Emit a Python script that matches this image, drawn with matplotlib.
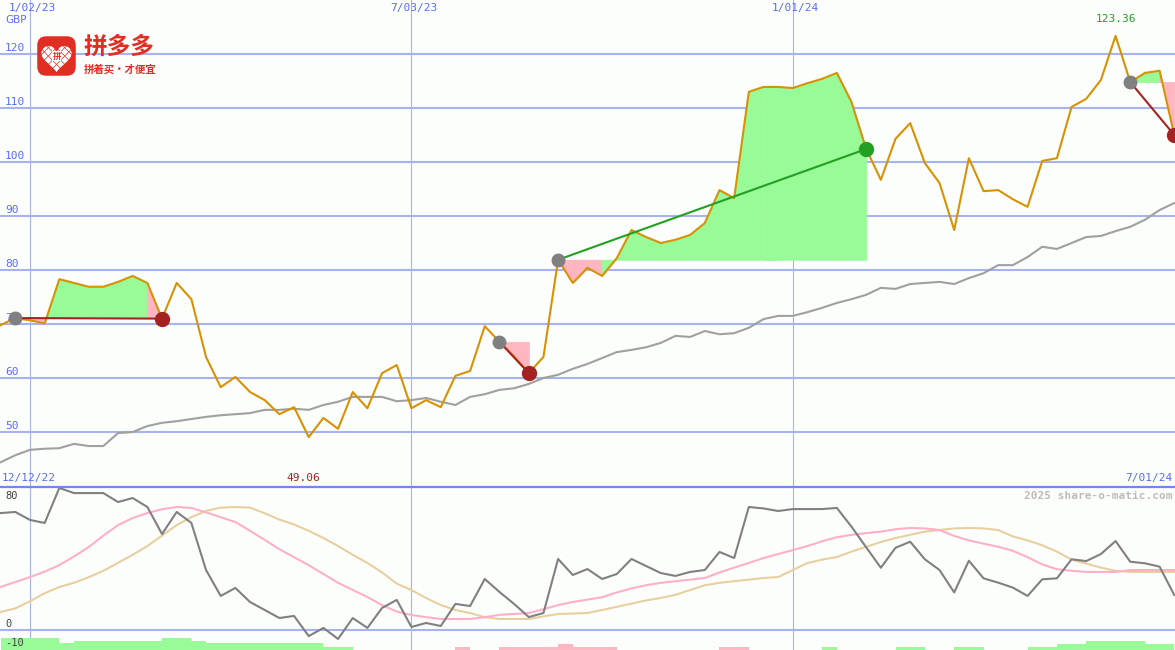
import numpy as np
import matplotlib.pyplot as plt
from matplotlib.patches import FancyBboxPatch
from matplotlib.lines import Line2D

# weekly points, week 0 = 1/02/23
weeks = np.arange(-2, 79)

price = [69.8, 71.1, 70.7, 70.1, 78.3, 77.6, 76.9, 76.9, 77.8, 78.9,
         77.6, 71.0, 77.6, 74.6, 63.9, 58.3, 60.2, 57.4, 55.9, 53.3,
         54.6, 49.06, 52.6, 50.6, 57.4, 54.4, 60.9, 62.4, 54.4, 55.9,
         54.6, 60.4, 61.3, 69.6, 66.7, 64.0, 60.9, 63.9, 81.9, 77.6,
         80.4, 78.9, 82.2, 87.4, 86.1, 85.0, 85.6, 86.5, 88.7, 94.8,
         93.3, 113.0, 113.9, 113.9, 113.7, 114.6, 115.4, 116.5, 111.1, 102.4,
         96.7, 104.3, 107.2, 99.8, 96.1, 87.4, 100.7, 94.6, 94.8, 93.1,
         91.7, 100.2, 100.7, 110.2, 111.7, 115.2, 123.36, 114.8, 116.5, 116.9,
         105.0]

avg = [44.4, 45.7, 46.7, 46.9, 47.0, 47.8, 47.4, 47.4, 49.8, 50.0,
       51.1, 51.7, 52.0, 52.4, 52.8, 53.1, 53.3, 53.5, 54.1, 54.1,
       54.3, 54.1, 55.0, 55.6, 56.5, 56.5, 56.5, 55.7, 55.9, 56.3,
       55.6, 55.0, 56.5, 57.0, 57.8, 58.1, 58.9, 60.0, 60.6, 61.7,
       62.6, 63.7, 64.8, 65.2, 65.7, 66.5, 67.8, 67.6, 68.7, 68.1,
       68.3, 69.3, 70.9, 71.5, 71.5, 72.2, 73.0, 73.9, 74.6, 75.4,
       76.7, 76.5, 77.4, 77.6, 77.8, 77.4, 78.5, 79.4, 80.9, 80.9,
       82.4, 84.3, 83.9, 85.0, 86.1, 86.3, 87.2, 88.0, 89.3, 91.1,
       92.4]

osc = [73.1, 73.8, 68.8, 66.9, 88.8, 85.6, 85.6, 85.6, 80.0, 82.5,
       76.9, 60.0, 73.8, 66.9, 37.5, 21.3, 26.3, 17.5, 12.5, 7.5,
       8.8, -3.8, 1.3, -5.6, 7.5, 1.3, 13.8, 18.8, 1.9, 4.4,
       2.5, 16.3, 15.0, 31.9, 23.8, 16.3, 8.1, 10.6, 44.4, 34.4,
       38.1, 31.9, 35.0, 44.4, 40.0, 35.6, 33.8, 36.3, 37.5, 48.8,
       45.0, 76.9, 76.0, 74.4, 75.6, 75.6, 75.6, 76.3, 64.6, 51.7,
       38.9, 51.4, 55.2, 44.2, 37.5, 23.5, 43.3, 32.3, 29.6, 26.5,
       21.3, 31.7, 32.3, 44.2, 43.1, 47.5, 55.6, 42.7, 41.7, 39.6,
       21.9]

osc_fast = [26.9, 30.0, 33.1, 36.5, 40.6, 46.0, 51.9, 59.0, 65.6, 70.0,
            73.1, 75.5, 76.9, 76.3, 73.5, 70.5, 67.5, 62.0, 56.3, 50.5,
            45.5, 40.5, 35.0, 29.5, 25.0, 20.6, 15.5, 11.5, 9.4, 8.0,
            6.9, 6.9, 6.9, 8.0, 9.5, 10.0, 10.6, 13.0, 15.6, 17.5,
            19.0, 20.5, 23.5, 26.0, 28.0, 29.5, 30.5, 31.5, 32.5, 36.0,
            39.0, 41.9, 45.0, 47.5, 50.0, 52.5, 55.5, 58.0, 59.5, 60.6,
            61.5, 63.0, 63.8, 63.5, 62.5, 58.8, 56.0, 54.0, 52.0, 49.5,
            45.5, 41.0, 38.0, 37.0, 36.3, 36.3, 36.3, 37.5, 37.5, 37.5,
            37.5]

osc_slow = [11.3, 13.5, 18.0, 23.0, 26.9, 29.5, 33.0, 37.0, 42.0, 47.0,
            52.5, 59.0, 65.6, 70.5, 74.5, 76.5, 76.9, 76.5, 73.0, 69.0,
            66.0, 62.0, 57.5, 52.5, 47.0, 41.9, 36.0, 29.0, 25.0, 20.0,
            15.6, 12.5, 10.6, 8.0, 6.9, 6.9, 6.9, 8.5, 10.0, 10.3,
            10.6, 12.5, 14.5, 16.5, 18.5, 20.0, 22.0, 25.0, 28.0, 29.5,
            30.5, 31.5, 32.5, 33.1, 37.5, 41.9, 44.0, 45.6, 49.0, 52.0,
            55.0, 57.5, 59.5, 61.5, 62.5, 63.5, 63.8, 63.5, 62.5, 58.5,
            56.0, 53.0, 49.0, 44.0, 41.5, 39.0, 37.0, 36.3, 36.3, 36.3,
            36.3]

# weekly signal bars (weeks -2..77), + green / - pink
signal = [7.5, 7.5, 7.5, 7.5, 4.4, 5.6, 5.6, 5.6, 5.6, 5.6,
          5.6, 7.5, 7.5, 5.6, 4.4, 4.4, 4.4, 4.4, 4.4, 4.4,
          4.4, 4.4, 1.9, 1.9, 0, 0, 0, 0, 0, 0,
          0, -1.9, 0, 0, -1.9, -1.9, -1.9, -1.9, -3.75, -1.9,
          -1.9, -1.9, 0, 0, 0, 0, 0, 0, 0, -1.9,
          -1.9, 0, 0, 0, 0, 0, 1.9, 0, 0, 0,
          0, 1.9, 1.9, 0, 0, 1.9, 1.9, 0, 0, 0,
          1.9, 1.9, 3.75, 3.75, 5.6, 5.6, 5.6, 5.6, 3.75, 3.75]

# trades: (buy week, sell week)
trades = [(-1, 9), (32, 34), (36, 57), (75, 78)]

price_ticks = [50, 60, 70, 80, 90, 100, 110, 120]
osc_ticks = [80, 0, -10]
date_weeks = [0, 26, 52]
date_labels = ['1/02/23', '7/03/23', '1/01/24']

BG = '#fcfefc'
GRID = '#a6b2f2'
LABEL = '#5a6cf0'
ORANGE = '#d99104'
GREEN_FILL = '#98fb98'
PINK_FILL = '#ffb6c1'
LOSS = '#a52222'
WIN = '#22a022'
RED = '#e22d22'
MONO = 'DejaVu Sans Mono'

W, H = 1175, 650
fig = plt.figure(figsize=(W / 100, H / 100), dpi=100, facecolor=BG)
ax = fig.add_axes([0, 163 / H, 1, 487 / H])
ax2 = fig.add_axes([0, 0, 1, 163 / H])

px_week = 14.67
x_lo = -30 / px_week
x_hi = (W - 30) / px_week
for a in (ax, ax2):
    a.set_xlim(x_lo, x_hi)
    a.set_facecolor('none')
    a.set_xticks([])
    a.set_yticks([])
    for s in a.spines.values():
        s.set_visible(False)
ax.set_ylim(130 - 487 / 5.4, 130)
ax2.set_ylim(-12.5, 89.4)

price = np.array(price)
idx = {w: i for i, w in enumerate(weeks)}

# grid
for v in price_ticks:
    ax.axhline(v, color=GRID, lw=1.5, zorder=1)
    ax.annotate(str(v), xy=(0, v), xycoords=ax.get_yaxis_transform(),
                xytext=(5, 6), textcoords='offset pixels', ha='left', va='center',
                fontsize=8, family=MONO, color=LABEL, zorder=1)
for w, lab in zip(date_weeks, date_labels):
    ax.axvline(w, color=GRID, lw=0.8, zorder=1)
    ax2.axvline(w, color=GRID, lw=0.8, zorder=1)
    ax.text(w + 0.15, 1 - 8 / 487, lab, transform=ax.get_xaxis_transform(), ha='center',
            va='center', fontsize=8, family=MONO, color=LABEL)
ax.text(5 / W, 1 - 20 / 487, 'GBP', transform=ax.transAxes, ha='left', va='center',
        fontsize=7.5, family='DejaVu Sans', color=LABEL)

# trade fills
for b, s in trades:
    bi, si = idx[b], idx[s]
    buy = price[bi]
    for i in range(bi, si):
        c = GREEN_FILL if price[i + 1] > buy else PINK_FILL
        ax.fill_between(weeks[i:i + 2], price[i:i + 2], buy, facecolor=c,
                        edgecolor=c, lw=0.6, zorder=2)

ax.plot(weeks, avg, color='#a0a0a0', lw=1.5, zorder=3)
ax.plot(weeks, price, color=ORANGE, lw=1.5, zorder=4)

for b, s in trades:
    bi, si = idx[b], idx[s]
    c = WIN if price[si] > price[bi] else LOSS
    ax.plot([b, s], [price[bi], price[si]], color=c, lw=1.5, zorder=5)
    ax.plot(b, price[bi], 'o', color='#808080', ms=9, zorder=6)
    ax.plot(s, price[si], 'o', color=c, ms=10, zorder=6)

hi = int(np.argmax(price))
lo = int(np.argmin(price))
ax.annotate(f'{price[hi]:.2f}', xy=(weeks[hi], price[hi]), xytext=(0, 17),
            textcoords='offset pixels', ha='center', va='center', fontsize=8,
            family=MONO, color=WIN)
ax.text(weeks[lo] - 0.4, 9 / 487, f'{price[lo]:.2f}', transform=ax.get_xaxis_transform(),
        ha='center', va='center', fontsize=8, family=MONO, color=LOSS)
ax.text(2 / W, 9 / 487, '12/12/22', transform=ax.transAxes, ha='left', va='center',
        fontsize=8, family=MONO, color=LABEL)
ax.text(1 - 3 / W, 9 / 487, '7/01/24', transform=ax.transAxes, ha='right', va='center',
        fontsize=8, family=MONO, color=LABEL)

# lower panel
fig.add_artist(Line2D([0, 1], [163 / H, 163 / H], transform=fig.transFigure,
                      color='#7484f0', lw=1.6))
ax2.axhline(0, color=GRID, lw=1.5, zorder=1)
for v in osc_ticks:
    ax2.annotate(str(v), xy=(0, v), xycoords=ax2.get_yaxis_transform(),
                 xytext=(5, 6 if v >= 0 else 3), textcoords='offset pixels',
                 ha='left', va='center', fontsize=7.5, family=MONO, color='#404040')
ax2.text(1 - 3 / W, 1 - 9 / 163, '2025 share-o-matic.com', transform=ax2.transAxes,
         ha='right', va='center', fontsize=8, family=MONO, weight='bold', color='#bcbcbc')

sig = np.array(signal)
ax2.bar(weeks[:-1], np.abs(sig), width=1.0, align='edge', bottom=-12.5,
        color=[GREEN_FILL if v > 0 else PINK_FILL for v in sig], lw=0, zorder=2)
ax2.plot(weeks, osc_slow, color='#e8cfa0', lw=1.5, zorder=3)
ax2.plot(weeks, osc_fast, color='#ffb0c8', lw=1.5, zorder=3)
ax2.plot(weeks, osc, color='#808080', lw=1.5, zorder=4)

# logo
lax = fig.add_axes([36 / W, 1 - 77 / H, 41 / W, 42 / H])
lax.set_xlim(0, 1)
lax.set_ylim(0, 1)
lax.axis('off')
lax.add_patch(FancyBboxPatch((0.03, 0.03), 0.94, 0.94,
                             boxstyle='round,pad=0,rounding_size=0.22',
                             color=RED, lw=0))
t = np.linspace(0, 2 * np.pi, 200)
hx = 16 * np.sin(t) ** 3
hy = 13 * np.cos(t) - 5 * np.cos(2 * t) - 2 * np.cos(3 * t) - np.cos(4 * t)
heart = lax.fill(0.5 + hx / 42, 0.47 + hy / 42, color='white', lw=0)[0]
for k in np.linspace(-0.5, 0.5, 6):
    for ln in (lax.plot([0.1, 0.9], [0.2 + k, 1.0 + k], color=RED, lw=0.5),
               lax.plot([0.1, 0.9], [1.0 + k, 0.2 + k], color=RED, lw=0.5)):
        ln[0].set_clip_path(heart)
lax.fill(0.5 + hx / 42, 0.47 + hy / 42, facecolor='none', edgecolor=RED, lw=0.8)
lax.text(0.5, 0.5, '拼', ha='center', va='center', fontsize=6, color=RED,
         family='Noto Sans CJK SC', weight='bold',
         bbox=dict(boxstyle='square,pad=0.05', fc='white', ec='none'))

fig.text(84 / W, 1 - 47 / H, '拼多多', ha='left', va='center', fontsize=17,
         family='Noto Sans CJK SC', weight='heavy', color=RED)
fig.text(84 / W, 1 - 70 / H, '拼着买·才便宜', ha='left', va='center', fontsize=7.5,
         family='Noto Sans CJK SC', weight='bold', color=RED)

fig.savefig('out.png', dpi=100, facecolor=BG)
